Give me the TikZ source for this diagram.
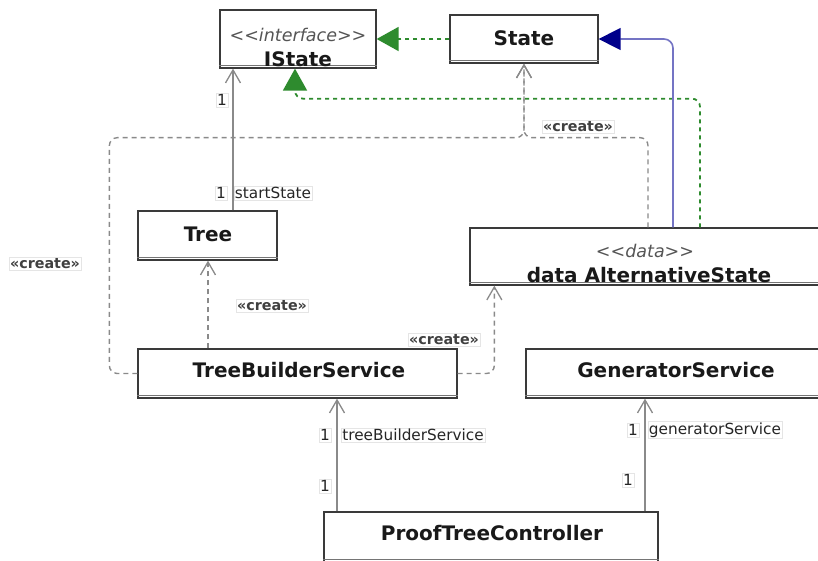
\documentclass[tikz,border=0pt]{standalone}
\usepackage{fontspec}
\setmainfont{DejaVu Sans}
\usetikzlibrary{arrows.meta,calc}

\definecolor{boxline}{HTML}{3A3A3A}
\definecolor{connector}{HTML}{8A8A8A}
\definecolor{realize}{HTML}{2E8B2E}
\definecolor{generalize}{HTML}{00008B}
\definecolor{genline}{HTML}{7474C4}
\definecolor{stereo}{HTML}{555555}

% literal angle brackets, kept apart so they do not merge into guillemets
\newcommand{\opn}{<\kern0pt<}
\newcommand{\cls}{>\kern0pt>}

\tikzset{
  classbox/.style={draw=boxline, line width=1.3pt, fill=white, inner sep=0pt},
  compline/.style={draw=boxline!70, line width=1pt},
  classname/.style={font=\fontsize{20}{24}\selectfont\bfseries, text=black!90, anchor=base, inner sep=0pt},
  stereotype/.style={font=\fontsize{17.5}{21}\selectfont\itshape, text=stereo, anchor=base, inner sep=0pt},
  tag/.style={font=\fontsize{15.3}{18}\selectfont, text=black!85, fill=white, draw=gray!20, inner sep=1.2pt},
  createtag/.style={font=\fontsize{14.3}{16}\selectfont\bfseries, text=black!75, fill=white, draw=gray!20, inner sep=1.2pt},
  assoc/.style={draw=connector, line width=1.5pt, -{Straight Barb[length=13pt,width=15pt,line width=1.3pt]}},
  createline/.style={draw=connector, line width=1.4pt, dash pattern=on 5pt off 4pt, rounded corners=8pt,
    -{Straight Barb[length=13pt,width=15pt,line width=1.3pt]}},
  realizeline/.style={draw=realize, line width=1.8pt, dash pattern=on 4pt off 4pt, rounded corners=8pt,
    -{Triangle[length=22pt,width=24pt]}},
  genarrow/.style={draw=genline, line width=1.6pt, rounded corners=9pt,
    -{Triangle[length=22pt,width=22pt,fill=generalize,color=generalize]}},
}

\begin{document}
\begin{tikzpicture}[x=1pt,y=-1pt]
  \clip (0,0) rectangle (818,560);
  \fill[white] (0,0) rectangle (818,560);

  % class boxes
  \node[classbox, minimum width=156pt, minimum height=58pt] (IState) at (298,39) {};
  \node[classbox, minimum width=148pt, minimum height=48pt] (State) at (524,39) {};
  \node[classbox, minimum width=139pt, minimum height=49pt] (Tree) at (207.5,235.5) {};
  \node[classbox, minimum width=358pt, minimum height=57pt] (Alt) at (649,256.5) {};
  \node[classbox, minimum width=319pt, minimum height=49pt] (TBS) at (297.5,373.5) {};
  \node[classbox, minimum width=300pt, minimum height=49pt] (GS) at (676,373.5) {};
  \node[classbox, minimum width=334pt, minimum height=50pt] (PTC) at (491,537) {};

  % lower compartment edges
  \foreach \b in {IState,State,Tree,Alt,TBS,GS,PTC}
    \draw[compline] ([yshift=3pt]\b.south west) -- ([yshift=3pt]\b.south east);

  % class names
  \node[stereotype] (IStateSt) at (298,41) {\opn interface\cls};
  \node[classname] (IStateName) at (298,66) {IState};
  \node[classname] (StateName) at (524,45) {State};
  \node[classname] (TreeName) at (208,241) {Tree};
  \node[stereotype] (AltSt) at (645,257) {\opn data\cls};
  \node[classname] (AltName) at (649,282) {data AlternativeState};
  \node[classname] (TBSName) at (299,377) {TreeBuilderService};
  \node[classname] (GSName) at (676,377) {GeneratorService};
  \node[classname] (PTCName) at (492,540) {ProofTreeController};

  % connector anchor points
  \coordinate (treeTop) at ($(Tree.north)+(25.5,0)$);
  \coordinate (altReal) at ($(Alt.north)+(51,0)$);
  \coordinate (altGen) at ($(Alt.north)+(24,0)$);
  \coordinate (altCreate) at ($(Alt.north)+(-1,0)$);
  \coordinate (iStateIn) at ($(IState.south)+(-3,0)$);
  \coordinate (joint) at ($(State.south)+(0,74)$);
  \coordinate (tbsTop) at ($(TBS.north)+(-89.5,0)$);
  \coordinate (altIn) at ($(Alt.south west)+(25,0)$);
  \coordinate (ptcLeft) at ($(PTC.north)+(-154,0)$);
  \coordinate (ptcRight) at ($(PTC.north)+(154,0)$);

  % dependencies (create)
  \draw[createline] (TBS.west) -- ++(-28,0) |- (joint) -- (State.south);
  \draw[createline] (altCreate) |- (joint) -- (State.south);
  \draw[createline] (tbsTop) -- (tbsTop |- Tree.south);
  \draw[createline] (TBS.east) -| (altIn);

  % realizations
  \draw[realizeline] (State.west) -- (State.west -| IState.east);
  \draw[realizeline] (altReal) |- ($(iStateIn)+(0,30)$) -- (iStateIn);

  % generalization
  \draw[genarrow] (altGen) |- (State.east);

  % associations
  \draw[assoc] (treeTop) -- (treeTop |- IState.south);
  \draw[assoc] (ptcLeft) -- (ptcLeft |- TBS.south);
  \draw[assoc] (ptcRight) -- (ptcRight |- GS.south);

  % association ends
  \node[tag] (m1) at (222,100) {1};
  \node[tag] (m2) at (221,193) {1};
  \node[tag] (r1) at (273,193) {startState};
  \node[tag] (m3) at (325,435) {1};
  \node[tag] (r2) at (413,435) {treeBuilderService};
  \node[tag] (m4) at (325,486) {1};
  \node[tag] (m5) at (633,430) {1};
  \node[tag] (r3) at (715,430) {generatorService};
  \node[tag] (m6) at (628,480) {1};

  % dependency stereotypes
  \node[createtag] (c1) at (45,264) {«create»};
  \node[createtag] (c2) at (578,127) {«create»};
  \node[createtag] (c3) at (272,306) {«create»};
  \node[createtag] (c4) at (444,340) {«create»};
\end{tikzpicture}
\end{document}
